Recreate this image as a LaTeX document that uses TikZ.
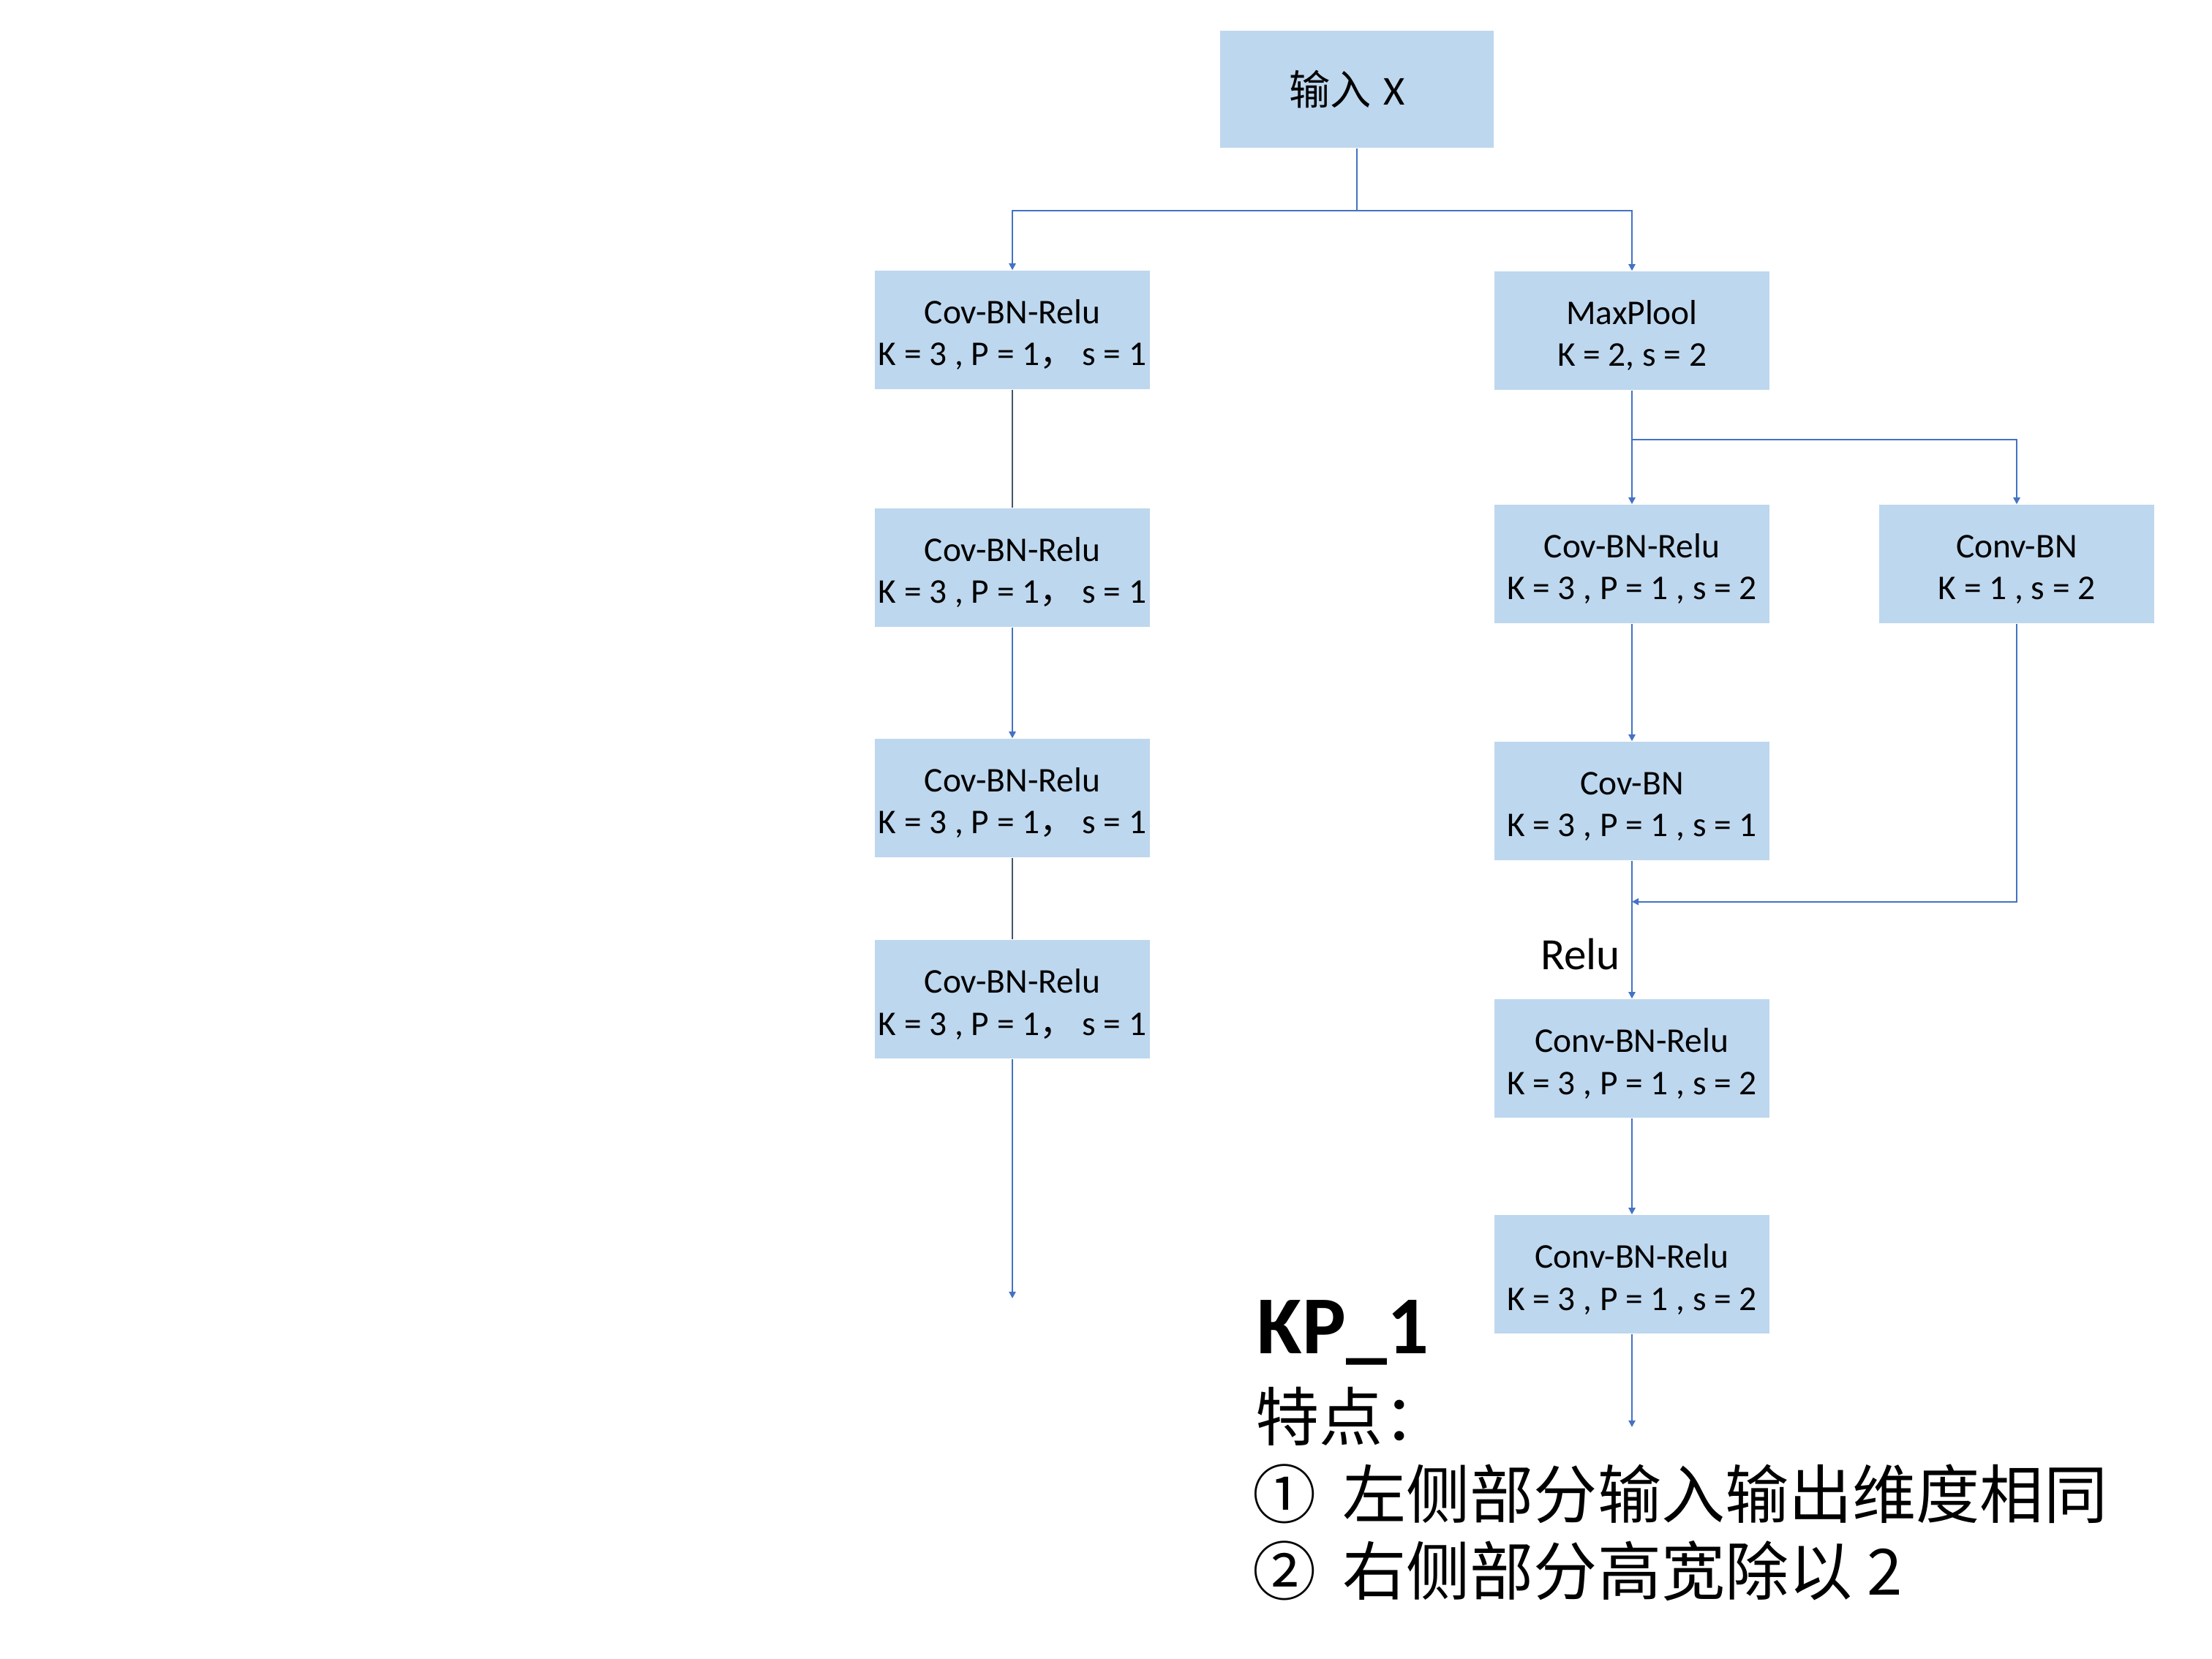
\documentclass[tikz,border=0pt]{standalone}
\usepackage{fontspec}
\setmainfont{Carlito}
\newfontfamily\cjk{Noto Sans CJK SC}
\usepackage{tikz}
\usetikzlibrary{arrows.meta}
\definecolor{boxblue}{HTML}{BDD7EE}
\definecolor{lineblue}{HTML}{4472C4}
\definecolor{linegray}{HTML}{44546A}
\tikzstyle{line} = [draw, color=lineblue, line width=0.6pt, -{Triangle[width=2.6pt,length=2.6pt]}]
\tikzstyle{plain} = [draw, color=linegray, line width=0.6pt]
\tikzstyle{block} = [rectangle, fill=boxblue, minimum width=37.6mm, minimum height=16.2mm, align=center, inner sep=0pt, font=\fontsize{13.5}{16.5}\selectfont, text height=29.6pt]
\tikzstyle{inbox} = [rectangle, fill=boxblue, minimum width=37.4mm, minimum height=16mm, inner sep=0pt, font=\fontsize{16}{19}\selectfont]
\tikzstyle{relu} = [inner sep=1.5mm, text=black, font=\fontsize{17.4}{20}\selectfont]
\tikzstyle{title} = [inner sep=0pt, font=\fontsize{32}{36}\selectfont\bfseries]
\tikzstyle{note} = [inner sep=0pt, font=\cjk\fontsize{24.8}{30}\selectfont]

\begin{document}
\begin{tikzpicture}
\useasboundingbox (0,0) rectangle (302.4mm,-226.8mm);

\node [inbox] (inp) at (185.5mm,-12.2mm) {{\cjk 输入}\hspace{0.4mm} X\hspace*{2.7mm}};

\node [block] (l1) at (138.4mm,-45.1mm) {Cov-BN-Relu\\K = 3 , P = 1{\cjk ，}\ s = 1};
\node [block, below of = l1, node distance = 32.5mm] (l2) {Cov-BN-Relu\\K = 3 , P = 1{\cjk ，}\ s = 1};
\node [block, below of = l2, node distance = 31.5mm] (l3) {Cov-BN-Relu\\K = 3 , P = 1{\cjk ，}\ s = 1};
\node [block, below of = l3, node distance = 27.5mm] (l4) {Cov-BN-Relu\\K = 3 , P = 1{\cjk ，}\ s = 1};
\coordinate [below of = l4, node distance = 40.9mm] (lout);

\node [block] (mp) at (223.1mm,-45.2mm) {MaxPlool\\K = 2, s = 2};
\node [block, below of = mp, node distance = 31.9mm] (r2) {Cov-BN-Relu\\K = 3 , P = 1 , s = 2};
\node [block, right of = r2, node distance = 52.6mm] (cb) {Conv-BN\\K = 1 , s = 2};
\node [block, below of = r2, node distance = 32.4mm] (r3) {Cov-BN\\K = 3 , P = 1 , s = 1};
\node [block, below of = r3, node distance = 35.2mm] (r4) {Conv-BN-Relu\\K = 3 , P = 1 , s = 2};
\node [block, below of = r4, node distance = 29.5mm] (r5) {Conv-BN-Relu\\K = 3 , P = 1 , s = 2};
\coordinate [below of = r5, node distance = 20.9mm] (rout);

\path [line] (inp.south) -- ++(0,-8.5mm) -| (l1.north);
\path [line] (inp.south) -- ++(0,-8.5mm) -| (mp.north);
\path [plain] (l1.south) -- (l2.north);
\path [line] (l2.south) -- (l3.north);
\path [plain] (l3.south) -- (l4.north);
\path [line] (l4.south) -- (lout);

\path [line] (mp.south) -- (r2.north);
\path [line] (mp.south) -- ++(0,-6.7mm) -| (cb.north);
\path [line] (r2.south) -- (r3.north);
\path [line] (cb.south) |- ([yshift=-5.6mm]r3.south);
\path [line] (r3.south) -- node [relu, pos=0.68, left] {Relu} (r4.north);
\path [line] (r4.south) -- (r5.north);
\path [line] (r5.south) -- (rout);

\node [title, anchor=base west] (kp) at (171.8mm,-185.0mm) {KP\_1};
\node [note, anchor=west] (feat) at (171.6mm,-193.6mm) {特点：};
\node [note, anchor=west] (p1) at (171.2mm,-204.2mm) {①\hspace{1.6mm} 左侧部分输入输出维度相同};
\node [note, anchor=west] (p2) at (171.2mm,-214.8mm) {②\hspace{1.6mm} 右侧部分高宽除以 2};

\end{tikzpicture}
\end{document}
